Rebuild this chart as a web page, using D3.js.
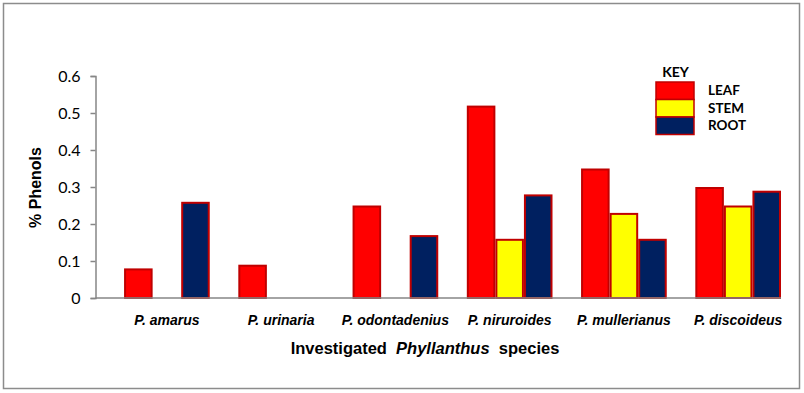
<!DOCTYPE html>
<html><head><meta charset="utf-8">
<script src="https://cdn.jsdelivr.net/npm/d3@7"></script>
<style>body{margin:0;background:#fff;} svg{display:block;}</style>
</head><body><svg id="c" width="804" height="393"></svg>
<script>
const categories = ["P. amarus","P. urinaria","P. odontadenius","P. niruroides","P. mullerianus","P. discoideus"];
const seriesNames = ["LEAF","STEM","ROOT"];
const leaf = [0.08,0.09,0.25,0.52,0.35,0.30];
const stem = [0,0,0,0.16,0.23,0.25];
const root = [0.26,0,0.17,0.28,0.16,0.29];
const yTicks = [0,0.1,0.2,0.3,0.4,0.5,0.6];
const colors = ["#FF0000","#FFFF00","#002060"];

const svg = d3.select("#c");
svg.append("rect").attr("x",3.5).attr("y",3.5).attr("width",796).attr("height",385)
  .attr("fill","#fff").attr("stroke","#8c8c8c").attr("stroke-width",1.5);

const L=95.5, R=781, T=76, B=298;
const x = d3.scaleBand().domain(categories).range([L,R]).padding(0);
const sub = d3.scaleBand().domain(["_", ...seriesNames]).range([0,x.bandwidth()]).padding(0);
const y = d3.scaleLinear().domain([0,0.6]).range([B,T]);

const data = [leaf,stem,root];
categories.forEach((c,i)=>{
  seriesNames.forEach((s,j)=>{
    const v=data[j][i];
    if(v>0){
      svg.append("rect").attr("x",x(c)+sub(s)+1).attr("y",y(v)+1)
        .attr("width",sub.bandwidth()-2).attr("height",B-y(v)-1)
        .attr("fill",colors[j]).attr("stroke","#C00000").attr("stroke-width",2);
    }
  });
});

const ya = svg.append("g").attr("transform",`translate(${L},0)`)
  .call(d3.axisLeft(y).tickValues(yTicks).tickFormat(d=>d===0?"0":d3.format(".1f")(d)).tickSize(5).tickPadding(10));
ya.select(".domain").attr("stroke","#868686").attr("stroke-width",1.5);
ya.selectAll(".tick line").attr("stroke","#868686").attr("stroke-width",1.5);
ya.selectAll(".tick text").attr("font-family","Lato, 'Liberation Sans', sans-serif").attr("font-size",16).attr("fill","#000");

svg.append("line").attr("x1",L).attr("x2",R).attr("y1",B).attr("y2",B)
  .attr("stroke","#868686").attr("stroke-width",1.5);

// category labels centered on the bar group
categories.forEach(c=>{
  const cx = x(c) + sub("LEAF") + (sub("ROOT")+sub.bandwidth()-sub("LEAF"))/2;
  svg.append("text").attr("x",cx).attr("y",325).attr("text-anchor","middle")
    .attr("font-family","'Liberation Sans', Arial, sans-serif").attr("font-size",14)
    .attr("font-weight","bold").attr("font-style","italic").text(c);
});

// axis titles
const xt = svg.append("text").attr("x",425).attr("y",354).attr("text-anchor","middle")
  .style("white-space","pre")
  .attr("font-family","'Liberation Sans', Arial, sans-serif").attr("font-size",16.5).attr("font-weight","bold");
xt.append("tspan").text("Investigated  ");
xt.append("tspan").attr("font-style","italic").text("Phyllanthus");
xt.append("tspan").text("  species");

svg.append("text").attr("transform","translate(41,187.5) rotate(-90)").attr("text-anchor","middle")
  .attr("font-family","'Liberation Sans', Arial, sans-serif").attr("font-size",16).attr("font-weight","bold")
  .text("% Phenols");

// legend
const lg = svg.append("g");
lg.append("text").attr("x",675.5).attr("y",77).attr("text-anchor","middle")
  .attr("font-family","Lato, sans-serif").attr("font-size",14).attr("font-weight","bold").text("KEY");
const ly = [82,99.5,117];
seriesNames.forEach((s,j)=>{
  lg.append("rect").attr("x",656).attr("y",ly[j]).attr("width",38).attr("height",17.5)
    .attr("fill",colors[j]).attr("stroke","#C00000").attr("stroke-width",1.5);
  lg.append("text").attr("x",708).attr("y",ly[j]+13).attr("font-family","Lato, sans-serif")
    .attr("font-size",13.5).attr("font-weight","bold").text(s);
});
</script></body></html>
